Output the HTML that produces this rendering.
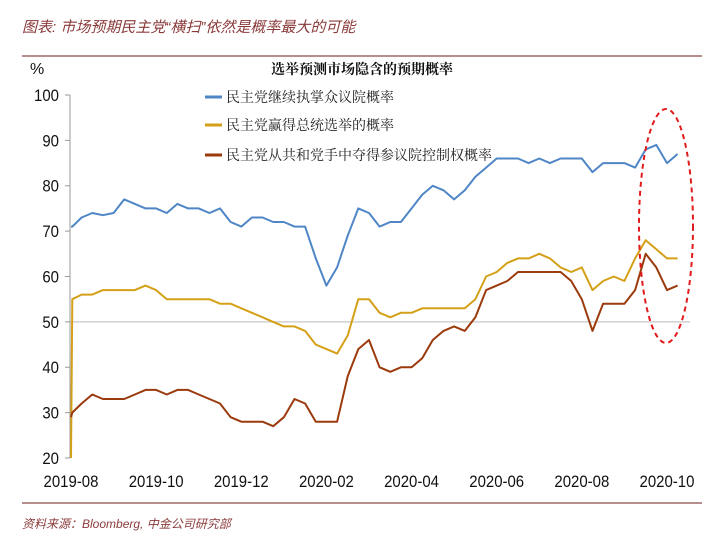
<!DOCTYPE html>
<html><head><meta charset="utf-8"><style>
body{margin:0;background:#fff;width:718px;height:544px;overflow:hidden}
svg{display:block}
</style></head><body>
<svg id="c" width="718" height="544" xmlns="http://www.w3.org/2000/svg">
<text x="22" y="32" font-family="Liberation Sans, Noto Sans CJK SC, sans-serif" font-size="15" font-style="italic" fill="#8b3a3a">图表: 市场预期民主党“横扫”依然是概率最大的可能</text>
<line x1="22" y1="56" x2="702" y2="56" stroke="#8b4a4a" stroke-width="1.2"/>
<text x="30" y="74" font-family="Liberation Sans, sans-serif" font-size="16" fill="#111">%</text>
<text x="362" y="74" text-anchor="middle" font-family="Liberation Serif, Noto Serif CJK SC, serif" font-weight="bold" font-size="14" fill="#111">选举预测市场隐含的预期概率</text>
<g id="axes"></g>
<g id="series"></g>
<g font-family="Liberation Serif, Noto Serif CJK SC, serif" font-size="14" fill="#222">
<line x1="205" y1="97" x2="222" y2="97" stroke="#4f86c6" stroke-width="3"/>
<text x="226" y="102">民主党继续执掌众议院概率</text>
<line x1="205" y1="125" x2="222" y2="125" stroke="#d4a017" stroke-width="3"/>
<text x="226" y="130">民主党赢得总统选举的概率</text>
<line x1="205" y1="155" x2="222" y2="155" stroke="#9b3a0c" stroke-width="3"/>
<text x="226" y="160">民主党从共和党手中夺得参议院控制权概率</text>
</g>
<ellipse cx="666" cy="226" rx="27" ry="117" fill="none" stroke="#e31a1c" stroke-width="2" stroke-dasharray="5,4"/>
<line x1="22" y1="503" x2="702" y2="503" stroke="#8b4a4a" stroke-width="1.2"/>
<text x="22" y="528" font-family="Liberation Sans, Noto Sans CJK SC, sans-serif" font-size="12" font-style="italic" fill="#8b3a3a">资料来源：Bloomberg, 中金公司研究部</text>
</svg>
<script>
const xLabels = ["2019-08","2019-10","2019-12","2020-02","2020-04","2020-06","2020-08","2020-10"];
const yTicks = [20,30,40,50,60,70,80,90,100];
const t = [0,0.03,0.25,0.5,0.75,1,1.25,1.5,1.75,2,2.25,2.5,2.75,3,3.25,3.5,3.75,4,4.25,4.5,4.75,5,5.25,5.5,5.75,6,6.25,6.5,6.75,7,7.25,7.5,7.75,8,8.25,8.5,8.75,9,9.25,9.5,9.75,10,10.25,10.5,10.75,11,11.25,11.5,11.75,12,12.25,12.5,12.75,13,13.25,13.5,13.75,14,14.25];
const house = [71,71,73,74,73.5,74,77,76,75,75,74,76,75,75,74,75,72,71,73,73,72,72,71,71,64,58,62,69,75,74,71,72,72,75,78,80,79,77,79,82,84,86,86,86,85,86,85,86,86,86,83,85,85,85,84,88,89,85,87];
const president = [20,55,56,56,57,57,57,57,58,57,55,55,55,55,55,54,54,53,52,51,50,49,49,48,45,44,43,47,55,55,52,51,52,52,53,53,53,53,53,55,60,61,63,64,64,65,64,62,61,62,57,59,60,59,64,68,66,64,64];
const senate = [29,30,32,34,33,33,33,34,35,35,34,35,35,34,33,32,29,28,28,28,27,29,33,32,28,28,28,38,44,46,40,39,40,40,42,46,48,49,48,51,57,58,59,61,61,61,61,61,59,55,48,54,54,54,57,65,62,57,58];
const NS='http://www.w3.org/2000/svg';
const X = m => 71 + m*42.57;
const Y = v => 95 + (100-v)*4.5375;
function mk(tag, attrs, parent){const e=document.createElementNS(NS,tag);for(const k in attrs)e.setAttribute(k,attrs[k]);parent.appendChild(e);return e;}
const ax=document.getElementById('axes');
const grid=mk('line',{x1:70,x2:690,y1:Y(50),y2:Y(50),stroke:'#d0d0d0','stroke-width':1.5},ax);


const yl=mk('line',{x1:70,x2:70,y1:Y(100),y2:Y(20),stroke:'#999','stroke-width':1},ax);


yTicks.forEach(v=>{
  const tk=mk('line',{x1:65,x2:70,y1:Y(v),y2:Y(v),stroke:'#999'},ax);
  
  
  const tx=mk('text',{x:59,y:Y(v)+6,'text-anchor':'end','font-family':'Liberation Sans, sans-serif','font-size':17,fill:'#111',transform:`translate(${59*0.12},0) scale(0.88,1)`},ax);
  tx.setAttribute('transform',`translate(${59*0.12} 0) scale(0.88 1)`);
  tx.textContent=v;
  
  
});
xLabels.forEach((s,i)=>{
  const cx=X(i*2);
  const tx=mk('text',{x:cx/0.88,y:487,'text-anchor':'middle','font-family':'Liberation Sans, sans-serif','font-size':17,fill:'#111',transform:'scale(0.88 1)'},ax);
  tx.textContent=s;
  
  
});
const sg=document.getElementById('series');
function line(vals,color,name){
  const d=vals.map((v,i)=>(i?'L':'M')+X(t[i]).toFixed(1)+','+Y(v).toFixed(1)).join('');
  const p=mk('path',{d,fill:'none',stroke:color,'stroke-width':2,'stroke-linejoin':'round'},sg);
  
  
}
line(president,'#d4a017','series-president');
line(senate,'#9b3a0c','series-senate');
line(house,'#4f86c6','series-house');
</script>
</body></html>
